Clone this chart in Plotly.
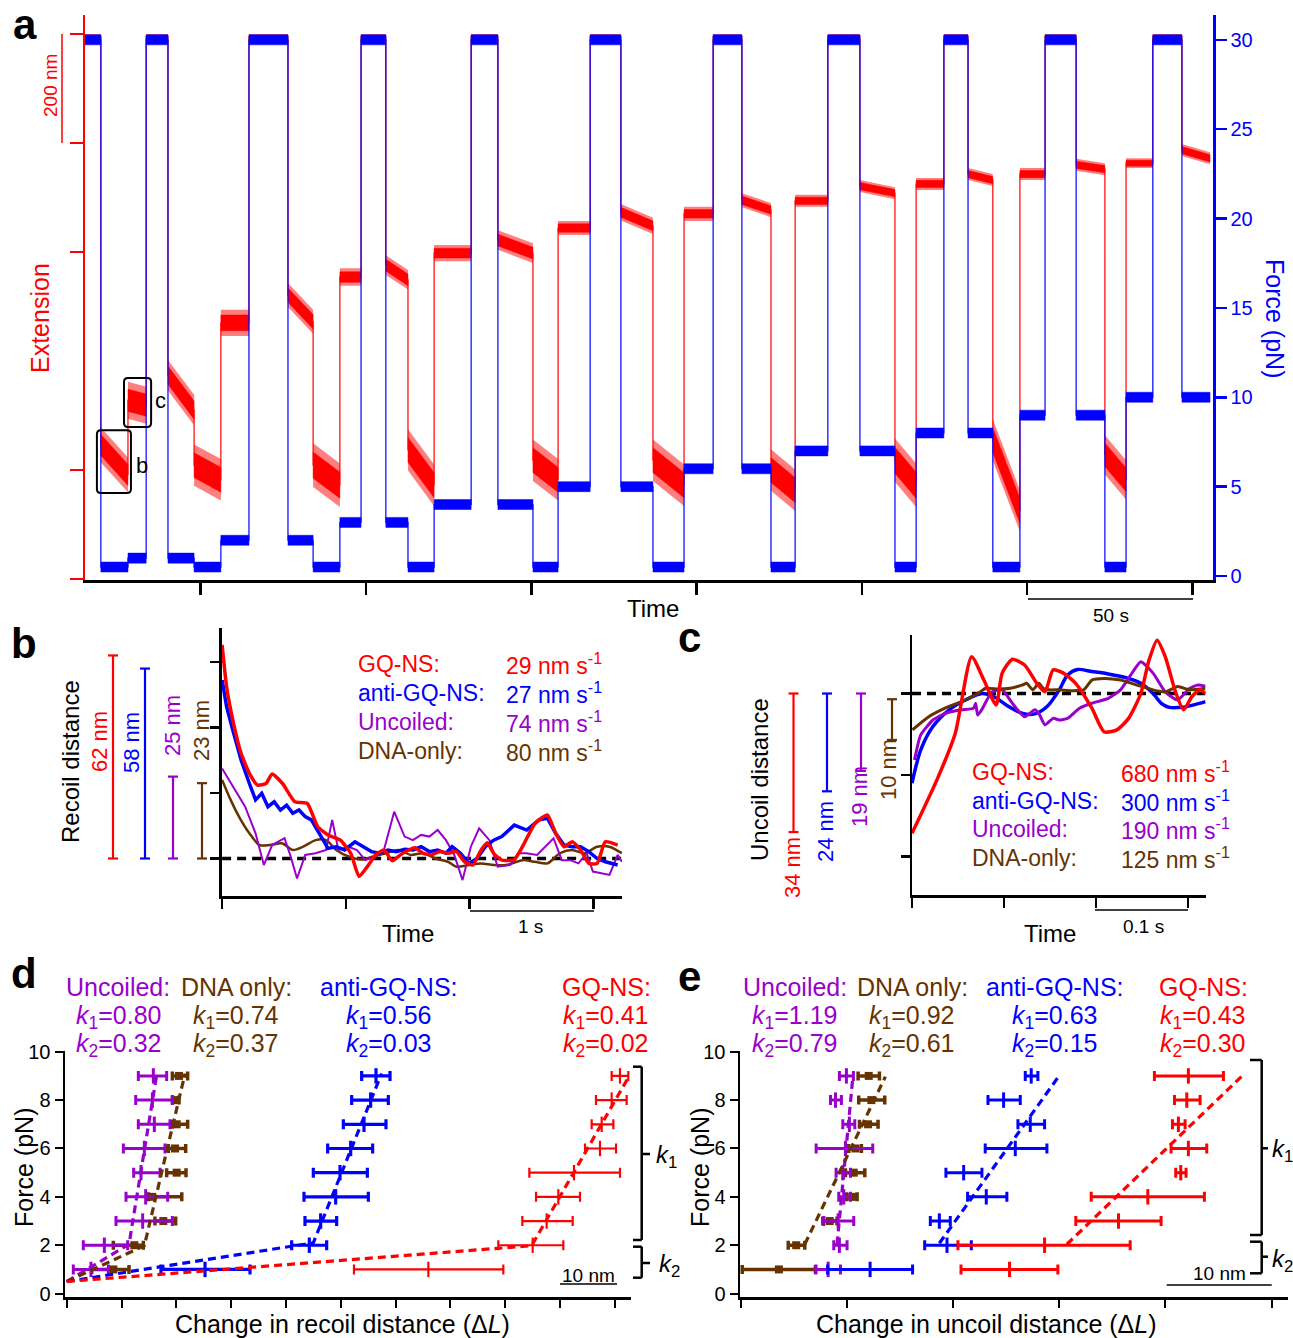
import plotly.graph_objects as go

W, H = 1293, 1338
def px(x): return x / W
def py(y): return 1 - y / H

RED = '#ff0000'; BLUE = '#0000ff'; PURPLE = '#9900cc'; BROWN = '#663300'
FONT = 'Liberation Sans, Arial, Helvetica, sans-serif'

# ---------------- Panel a data (time s, force pN, extension nm) ----------------
seg_t0 = [0, 4.8, 13.0, 18.5, 25.1, 33.0, 41.1, 49.6, 61.4, 69.0, 77.1, 83.5, 91.0, 97.7,
          105.6, 116.8, 124.9, 135.5, 143.1, 152.8, 162.1, 171.8, 181.2, 190.0, 198.7,
          207.5, 214.8, 224.7, 234.4, 245.0, 251.4, 259.8, 267.1, 274.6, 282.8, 290.4,
          299.8, 308.5, 314.9, 323.0, 331.8]
seg_t1 = seg_t0[1:] + [340.3]
seg_force = [30, 0.5, 1, 30, 1, 0.5, 2, 30, 2, 0.5, 3, 30, 3, 0.5, 4, 30, 4, 0.5, 5, 30, 5,
             0.5, 6, 30, 6, 0.5, 7, 30, 7, 0.5, 8, 30, 8, 0.5, 9, 30, 9, 0.5, 10, 30, 10]
seg_ext0 = [995, 246, 328, 995, 374, 209, 470, 995, 521, 209, 554, 995, 576, 237, 598, 995,
            622, 218, 644, 995, 673, 218, 670, 995, 695, 200, 694, 995, 721, 218, 725, 995,
            743, 255, 743, 995, 760, 228, 763, 995, 787]
seg_ext1 = [995, 191, 319, 995, 310, 182, 470, 995, 472, 172, 554, 995, 549, 172, 598, 995,
            598, 182, 644, 995, 648, 172, 670, 995, 677, 163, 694, 995, 708, 172, 725, 995,
            732, 125, 743, 995, 752, 182, 763, 995, 772]
seg_ext_noise = [5, 32, 34, 5, 28, 38, 24, 5, 22, 40, 16, 5, 18, 38, 15, 5, 18, 38, 13, 5, 15,
                 38, 13, 5, 13, 38, 11, 5, 11, 40, 11, 5, 11, 38, 11, 5, 11, 36, 9, 5, 11]
force_noise = 0.28
a_time_ticks = [35, 85, 135, 185, 235, 285, 335]
a_ext_ticks = [0, 200, 600, 800, 1000]
a_force_ticks = [0, 5, 10, 15, 20, 25, 30]

# ---------------- Panel b data (s, nm) ----------------
b_red_t = [0.0, 0.036, 0.086, 0.153, 0.220, 0.287, 0.354, 0.404, 0.488, 0.588, 0.688, 0.772, 0.855,
           0.955, 1.039, 1.106, 1.173, 1.240, 1.307, 1.374, 1.440, 1.507, 1.557, 1.624, 1.691,
           1.758, 1.825, 1.892, 1.958, 2.025, 2.092, 2.142, 2.193, 2.259, 2.360, 2.426, 2.527,
           2.627, 2.694, 2.761, 2.828, 2.895, 2.962, 3.029, 3.095, 3.195]
b_red_nm = [65.2, 52.5, 42.3, 32.1, 26.0, 22.4, 22.9, 25.8, 22.9, 17.3, 16.8, 9.7, 7.2, 5.6, 1.6,
            -5.5, -2.5, 1.1, 2.6, -0.7, 1.1, 2.6, 3.3, 1.6, 1.1, 2.1, 1.6, 2.1, -1.0, -2.0, 2.6,
            4.8, 1.6, -0.5, -0.3, 3.6, 10.7, 13.3, 7.7, 3.6, 5.1, 2.6, -1.5, -1.5, 5.1, 4.1]
b_blue_t = [0.0, 0.036, 0.086, 0.153, 0.220, 0.270, 0.320, 0.370, 0.421, 0.471, 0.521, 0.571,
            0.621, 0.671, 0.721, 0.788, 0.855, 0.922, 0.989, 1.073, 1.139, 1.206, 1.273, 1.340,
            1.407, 1.474, 1.541, 1.608, 1.674, 1.741, 1.808, 1.858, 1.925, 1.992, 2.059, 2.126,
            2.193, 2.259, 2.360, 2.460, 2.560, 2.627, 2.694, 2.761, 2.828, 2.895, 2.962, 3.029,
            3.095, 3.195]
b_blue_nm = [54.5, 46.4, 39.2, 30.1, 22.9, 17.9, 19.9, 15.8, 17.3, 14.8, 16.3, 13.8, 14.8, 12.8,
             11.8, 7.7, 3.1, 3.6, 2.6, 5.1, 3.6, 2.1, 1.6, 2.6, 2.1, 2.8, 2.6, 3.6, 2.1, 2.6, 1.6,
             3.6, 1.6, -1.5, 0.0, 3.6, 5.6, 6.7, 10.2, 8.7, 11.8, 12.3, 7.7, 4.1, 3.6, 3.6, 2.1,
             0.0, -1.0, -2.0]
b_purple_t = [0.0, 0.086, 0.186, 0.270, 0.337, 0.404, 0.504, 0.554, 0.605, 0.671, 0.755, 0.839,
              0.889, 0.939, 1.022, 1.089, 1.156, 1.240, 1.307, 1.390, 1.474, 1.541, 1.608, 1.674,
              1.741, 1.808, 1.875, 1.942, 2.009, 2.076, 2.159, 2.226, 2.326, 2.393, 2.460, 2.544,
              2.627, 2.677, 2.744, 2.811, 2.878, 2.945, 2.995, 3.062, 3.129, 3.195, 3.23]
b_purple_nm = [27.5, 21.9, 15.8, 7.7, -2.0, 4.1, 6.2, 0.6, -6.1, 1.1, 1.6, 2.6, 11.8, 2.6, 3.6,
               2.6, -0.5, 0.6, 2.6, 14.3, 6.7, 5.6, 7.2, 6.7, 8.7, 5.6, 1.1, -6.6, 3.6, 9.2, 5.6,
               -2.5, -2.0, 1.6, 1.6, 1.1, 4.1, 6.2, -0.5, -0.5, -1.5, 1.6, -4.0, -4.5, -5.0, 1.1,
               -1.0]
b_brown_t = [0.0, 0.069, 0.136, 0.220, 0.303, 0.387, 0.488, 0.571, 0.655, 0.755, 0.839, 0.922,
             1.022, 1.123, 1.223, 1.323, 1.424, 1.524, 1.624, 1.725, 1.825, 1.892, 1.992, 2.092,
             2.193, 2.293, 2.427, 2.527, 2.627, 2.728, 2.828, 2.928, 3.029, 3.129, 3.229]
b_brown_nm = [24.0, 17.9, 12.8, 7.7, 4.1, 4.1, 4.6, 2.6, 3.6, 5.6, 5.6, 2.6, 0.6, -0.3, 0.6, 1.6,
              2.6, 1.1, 1.6, 0.0, -1.0, -2.5, -2.0, -1.5, -2.0, -2.0, -0.5, -1.0, -1.5, 1.6, 2.6,
              1.6, 3.6, 3.6, 1.6]
b_bars = [62, 58, 25, 23]

# ---------------- Panel c data (s, nm) ----------------
c_red_t = [0.0, 0.0271, 0.0470, 0.0648, 0.0781, 0.0914, 0.0980, 0.1091, 0.1224, 0.1357, 0.1445,
           0.1534, 0.1645, 0.1778, 0.1955, 0.2088, 0.2221, 0.2354, 0.2487, 0.2576, 0.2664,
           0.2753, 0.2864, 0.2952, 0.3041, 0.3130, 0.3190]
c_red_nm = [-34.3, -21.2, -9.8, 9.0, 3.3, -2.8, 5.0, 8.4, 7.0, 2.5, 0.4, 5.8, 5.0, 2.5, -3.6,
            -9.4, -9.0, -6.1, 0.0, 8.2, 13.1, 9.0, 0.4, -4.0, -0.8, 0.9, 0.0]
c_blue_t = [0.0, 0.0094, 0.0227, 0.0404, 0.0581, 0.0758, 0.0891, 0.1024, 0.1202, 0.1335, 0.1468,
            0.1601, 0.1689, 0.1800, 0.1955, 0.2133, 0.2310, 0.2487, 0.2620, 0.2709, 0.2797,
            0.2930, 0.3063, 0.3190]
c_blue_nm = [-22.0, -13.9, -8.1, -4.0, -1.6, 0.0, -0.8, -2.8, -4.9, -5.0, -3.2, 0.9, 4.5, 5.9,
             5.4, 4.8, 4.0, 2.5, 0.0, -2.4, -3.4, -3.4, -2.8, -2.0]
c_purple_t = [0.0027, 0.0094, 0.0227, 0.0359, 0.0537, 0.0670, 0.0692, 0.0714, 0.0758, 0.0869,
              0.0980, 0.1091, 0.1224, 0.1335, 0.1379, 0.1445, 0.1534, 0.1601, 0.1689, 0.1822,
              0.1955, 0.2133, 0.2266, 0.2376, 0.2487, 0.2620, 0.2753, 0.2886, 0.3019, 0.3108,
              0.3190]
c_purple_nm = [-16.3, -10.2, -6.5, -4.9, -4.0, -3.6, -2.4, -5.3, -4.0, 0.4, 0.9, -2.4, -5.7,
               -4.0, -4.9, -7.7, -6.1, -6.5, -6.1, -3.6, -2.4, -1.2, 0.9, 4.5, 7.8, 5.0, 0.4,
               -1.6, 1.3, 2.1, 1.8]
c_brown_t = [0.0005, 0.0182, 0.0359, 0.0537, 0.0714, 0.0803, 0.0936, 0.1069, 0.1202, 0.1246,
             0.1313, 0.1379, 0.1423, 0.1490, 0.1601, 0.1734, 0.1867, 0.1955, 0.2088, 0.2266,
             0.2443, 0.2620, 0.2753, 0.2886, 0.3019, 0.3190]
c_brown_nm = [-8.9, -5.7, -3.6, -2.0, 0.0, 1.3, 1.1, 1.3, 2.1, 2.5, 0.9, 2.5, 1.3, 0.9, 0.9, 0.7,
              0.9, 3.3, 3.7, 3.3, 2.1, 0.9, 0.4, 1.7, 0.9, 1.3]
c_bars_top = [0, 0, 0, -1.4]
c_bars_bot = [-34, -24, -19, -11.4]

# ---------------- Panel d data (nm, pN) ----------------
force_levels = [1, 2, 3, 4, 5, 6, 7, 8, 9]
d_purple_mid = [4.43, 6.87, 13.86, 14.41, 13.56, 14.17, 15.99, 15.63, 15.81]
d_purple_lo = [1.21, 3.03, 9.00, 10.82, 12.22, 10.34, 13.07, 12.59, 13.07]
d_purple_hi = [7.60, 11.13, 19.28, 18.43, 17.03, 17.94, 18.85, 19.28, 18.24]
d_brown_mid = [8.51, 12.34, 17.63, 15.6, 20.07, 19.76, 20.07, 19.88, 20.49]
d_brown_lo = [4.56, 8.51, 16.1, 14.9, 18.24, 18.55, 19.28, 19.3, 19.28]
d_brown_hi = [11.37, 13.98, 19.88, 21.0, 21.77, 21.71, 22.07, 20.49, 22.07]
d_blue_mid = [25.24, 44.27, 46.34, 49.08, 49.87, 51.82, 54.25, 55.46, 56.44]
d_blue_lo = [17.2, 41.05, 43.48, 43.3, 45.0, 47.62, 50.48, 52.0, 53.82]
d_blue_hi = [33.45, 47.44, 49.26, 55.04, 54.86, 55.83, 58.26, 58.69, 59.0]
d_red_mid = [65.99, 85.03, 87.58, 89.71, 92.57, 97.31, 97.62, 99.44, 100.96]
d_red_lo = [52.42, 78.76, 83.14, 85.64, 84.42, 94.58, 95.79, 96.58, 99.44]
d_red_hi = [79.67, 90.62, 92.33, 93.66, 100.96, 100.24, 99.75, 102.18, 102.48]
d_fit_purple = ([0, 11.37, 16.42], [0.5, 2.04, 9.04])
d_fit_brown = ([0, 14.17, 21.59], [0.5, 1.98, 9.1])
d_fit_blue = ([0, 45.0, 57.47], [0.5, 2.1, 9.1])
d_fit_red = ([0, 84.84, 102.48], [0.5, 1.98, 8.93])
d_k = [('0.80', '0.32'), ('0.74', '0.37'), ('0.56', '0.03'), ('0.41', '0.02')]

# ---------------- Panel e data (nm, pN) ----------------
e_purple_mid = [8.25, 9.31, 9.19, 9.72, 9.63, 9.88, 10.25, 8.94, 9.97]
e_purple_lo = [7.09, 8.78, 7.84, 9.25, 9.00, 7.12, 9.63, 8.47, 9.31]
e_purple_hi = [9.41, 10.03, 10.66, 10.35, 10.35, 12.45, 10.76, 9.50, 10.63]
e_brown_mid = [3.61, 5.24, 8.40, 10.51, 10.66, 10.82, 12.01, 12.32, 12.07]
e_brown_lo = [0.16, 4.49, 7.75, 9.97, 9.88, 10.19, 11.2, 11.13, 11.07]
e_brown_hi = [7.06, 6.05, 9.09, 10.98, 11.70, 11.38, 12.95, 13.58, 13.08]
e_blue_mid = [12.2, 19.44, 18.72, 23.14, 21.01, 25.87, 27.28, 24.77, 27.37]
e_blue_lo = [8.2, 17.34, 17.87, 21.38, 19.34, 23.04, 26.12, 23.3, 26.81]
e_blue_hi = [16.2, 21.73, 19.75, 25.08, 22.73, 28.85, 28.63, 26.34, 28.0]
e_red_mid = [25.33, 28.63, 35.59, 38.35, 41.45, 42.17, 41.23, 42.02, 42.17]
e_red_lo = [20.76, 20.47, 31.57, 33.02, 40.98, 40.54, 40.67, 40.86, 38.97]
e_red_hi = [29.88, 36.69, 39.6, 43.68, 41.95, 43.9, 41.86, 43.27, 45.47]
e_fit_purple = ([9.09, 10.57], [2.04, 8.93])
e_fit_brown = ([6.05, 13.64], [2.04, 8.97])
e_fit_blue = ([18.72, 30.01], [2.08, 9.01])
e_fit_red = ([30.73, 47.35], [2.04, 9.05])
e_k = [('1.19', '0.79'), ('0.92', '0.61'), ('0.63', '0.15'), ('0.43', '0.30')]

fig = go.Figure()

# ---------------- Panel a traces ----------------
def band(t0, t1, v0, v1, n0, n1):
    return [t0, t1, t1, t0, t0, None], [v0 - n0, v1 - n1, v1 + n1, v0 + n0, v0 - n0, None]

ro_x, ro_y, rc_x, rc_y, rl_x, rl_y, bb_x, bb_y, bl_x, bl_y = [], [], [], [], [], [], [], [], [], []
for t0, t1, f, e0, e1, n in zip(seg_t0, seg_t1, seg_force, seg_ext0, seg_ext1, seg_ext_noise):
    xx, yy = band(t0, t1, e0, e1, n, n); ro_x += xx; ro_y += yy
    xx, yy = band(t0, t1, e0, e1, 0.6 * n, 0.6 * n); rc_x += xx; rc_y += yy
    rl_x += [t0, t1]; rl_y += [e0, e1]
    xx, yy = band(t0, t1, f, f, force_noise, force_noise); bb_x += xx; bb_y += yy
    bl_x += [t0, t1]; bl_y += [f, f]

fig.add_trace(go.Scatter(x=rl_x, y=rl_y, mode='lines', line=dict(color=RED, width=1.2),
                         xaxis='x', yaxis='y'))
fig.add_trace(go.Scatter(x=ro_x, y=ro_y, mode='lines', fill='toself', fillcolor='rgba(255,0,0,0.5)',
                         line=dict(width=0), xaxis='x', yaxis='y'))
fig.add_trace(go.Scatter(x=rc_x, y=rc_y, mode='lines', fill='toself', fillcolor=RED,
                         line=dict(color=RED, width=0.5), xaxis='x', yaxis='y'))
fig.add_trace(go.Scatter(x=bl_x, y=bl_y, mode='lines', line=dict(color=BLUE, width=1.2),
                         xaxis='x', yaxis='y2'))
fig.add_trace(go.Scatter(x=bb_x, y=bb_y, mode='lines', fill='toself', fillcolor=BLUE,
                         line=dict(color=BLUE, width=0.5), xaxis='x', yaxis='y2'))

# ---------------- Panel b traces ----------------
fig.add_trace(go.Scatter(x=[0, 3.23], y=[0, 0], mode='lines',
                         line=dict(color='black', width=3.5, dash='9px,6px'), xaxis='x3', yaxis='y3'))
fig.add_trace(go.Scatter(x=b_brown_t, y=b_brown_nm, mode='lines', line=dict(color=BROWN, width=2.5, shape='spline', smoothing=0.8),
                         xaxis='x3', yaxis='y3'))
fig.add_trace(go.Scatter(x=b_purple_t, y=b_purple_nm, mode='lines', line=dict(color=PURPLE, width=2),
                         xaxis='x3', yaxis='y3'))
fig.add_trace(go.Scatter(x=b_blue_t, y=b_blue_nm, mode='lines', line=dict(color=BLUE, width=3.5),
                         xaxis='x3', yaxis='y3'))
fig.add_trace(go.Scatter(x=b_red_t, y=b_red_nm, mode='lines', line=dict(color=RED, width=3.5, shape='spline', smoothing=0.5),
                         xaxis='x3', yaxis='y3'))

# ---------------- Panel c traces ----------------
fig.add_trace(go.Scatter(x=[0, 0.319], y=[0, 0], mode='lines',
                         line=dict(color='black', width=3.5, dash='9px,6px'), xaxis='x4', yaxis='y4'))
fig.add_trace(go.Scatter(x=c_blue_t, y=c_blue_nm, mode='lines', line=dict(color=BLUE, width=3.5, shape='spline', smoothing=0.8),
                         xaxis='x4', yaxis='y4'))
fig.add_trace(go.Scatter(x=c_purple_t, y=c_purple_nm, mode='lines', line=dict(color=PURPLE, width=3, shape='spline', smoothing=0.5),
                         xaxis='x4', yaxis='y4'))
fig.add_trace(go.Scatter(x=c_brown_t, y=c_brown_nm, mode='lines', line=dict(color=BROWN, width=3, shape='spline', smoothing=0.5),
                         xaxis='x4', yaxis='y4'))
fig.add_trace(go.Scatter(x=c_red_t, y=c_red_nm, mode='lines', line=dict(color=RED, width=3.5, shape='spline', smoothing=0.6),
                         xaxis='x4', yaxis='y4'))

# ---------------- Panels d/e traces ----------------
def err_series(mid, lo, hi, color, xa, ya, thick, square=False):
    plus = [h - m for h, m in zip(hi, mid)]
    minus = [m - l for m, l in zip(mid, lo)]
    marker = (dict(symbol='square', size=8, color=color) if square else
              dict(symbol='line-ns', size=11, line=dict(color=color, width=thick)))
    fig.add_trace(go.Scatter(x=mid, y=force_levels, mode='markers', marker=marker,
                             error_x=dict(type='data', symmetric=False, array=plus, arrayminus=minus,
                                          color=color, thickness=thick, width=4.5 if square else 5),
                             xaxis=xa, yaxis=ya))

def fit_line(fit, color, xa, ya):
    fig.add_trace(go.Scatter(x=fit[0], y=fit[1], mode='lines',
                             line=dict(color=color, width=3.2, dash='8px,5px'), xaxis=xa, yaxis=ya))

err_series(d_brown_mid, d_brown_lo, d_brown_hi, BROWN, 'x5', 'y5', 3.5, square=True)
err_series(d_purple_mid, d_purple_lo, d_purple_hi, PURPLE, 'x5', 'y5', 3)
err_series(d_blue_mid, d_blue_lo, d_blue_hi, BLUE, 'x5', 'y5', 3.2)
err_series(d_red_mid, d_red_lo, d_red_hi, RED, 'x5', 'y5', 2.2)
for fit, col in [(d_fit_purple, PURPLE), (d_fit_brown, BROWN), (d_fit_blue, BLUE), (d_fit_red, RED)]:
    fit_line(fit, col, 'x5', 'y5')

err_series(e_brown_mid, e_brown_lo, e_brown_hi, BROWN, 'x6', 'y6', 3.5, square=True)
err_series(e_purple_mid, e_purple_lo, e_purple_hi, PURPLE, 'x6', 'y6', 3)
err_series(e_blue_mid, e_blue_lo, e_blue_hi, BLUE, 'x6', 'y6', 3)
err_series(e_red_mid, e_red_lo, e_red_hi, RED, 'x6', 'y6', 3)
for fit, col in [(e_fit_purple, PURPLE), (e_fit_brown, BROWN), (e_fit_blue, BLUE), (e_fit_red, RED)]:
    fit_line(fit, col, 'x6', 'y6')

# ---------------- Axes ----------------
def ax(**kw):
    d = dict(showgrid=False, zeroline=False, showline=True, linecolor='black', linewidth=2.5,
             ticks='outside', tickcolor='black', tickwidth=2.5, ticklen=10, showticklabels=False,
             fixedrange=True, automargin=False)
    d.update(kw)
    return d

layout = dict(
    width=W, height=H, margin=dict(l=0, r=0, t=0, b=0, pad=0, autoexpand=False), autosize=False,
    paper_bgcolor='white', plot_bgcolor='white', showlegend=False,
    font=dict(family=FONT, color='black'),
    xaxis=ax(domain=[px(84.5), px(1213)], range=[-0.15, 341.2], anchor='y',
             tickvals=a_time_ticks, ticklen=12),
    yaxis=ax(domain=[py(580), py(15)], range=[-1.8, 1034.9], anchor='x', linecolor=RED,
             linewidth=2, tickcolor=RED, tickvals=a_ext_ticks, ticklen=13),
    yaxis2=ax(domain=[py(580), py(15)], range=[-0.224, 31.39], anchor='x', overlaying='y',
              side='right', linecolor=BLUE, tickcolor=BLUE, tickvals=a_force_ticks, ticklen=11,
              showticklabels=True, tickfont=dict(color=BLUE, size=20, family=FONT)),
    xaxis3=ax(domain=[px(221.5), px(622)], range=[-0.005, 3.23], anchor='y3', tickvals=[0, 1, 2, 3]),
    yaxis3=ax(domain=[py(896), py(628)], range=[-11.45, 70.38], anchor='x3', tickvals=[0, 20, 40, 60],
              ticklen=9),
    xaxis4=ax(domain=[px(912), px(1205.6)], range=[0, 0.3191], anchor='y4', tickvals=[0, 0.1, 0.2, 0.3]),
    yaxis4=ax(domain=[py(895), py(635)], range=[-49.45, 14.36], anchor='x4', tickvals=[0, -20, -40],
              ticklen=9),
    xaxis5=ax(domain=[px(65), px(631)], range=[-0.31, 102.97], anchor='y5',
              tickvals=list(range(0, 101, 10)), ticklen=8, tickwidth=2),
    yaxis5=ax(domain=[py(1297), py(1051)], range=[-0.14, 10.03], anchor='x5',
              tickvals=[0, 2, 4, 6, 8, 10], ticklen=8, tickwidth=2, showticklabels=True,
              tickfont=dict(size=20, family=FONT, color='black')),
    xaxis6=ax(domain=[px(740), px(1288)], range=[-0.05, 51.55], anchor='y6',
              tickvals=[0, 10, 20, 30, 40, 50], ticklen=8, tickwidth=2),
    yaxis6=ax(domain=[py(1297), py(1051)], range=[-0.14, 10.03], anchor='x6',
              tickvals=[0, 2, 4, 6, 8, 10], ticklen=8, tickwidth=2, showticklabels=True,
              tickfont=dict(size=20, family=FONT, color='black')),
)
fig.update_layout(**layout)

# ---------------- Annotations ----------------
ann = []
def txt(x, y, s, size=24, color='black', angle=0, xanchor='center', yanchor='middle', bold=False):
    ann.append(dict(x=px(x), y=py(y), xref='paper', yref='paper', text=('<b>%s</b>' % s) if bold else s,
                    showarrow=False, textangle=angle, xanchor=xanchor, yanchor=yanchor,
                    font=dict(size=size, color=color, family=FONT)))

# panel labels
txt(25, 24, 'a', 42, bold=True)
txt(24, 643, 'b', 42, bold=True)
txt(690, 637, 'c', 42, bold=True)
txt(24, 974, 'd', 42, bold=True)
txt(689, 976, 'e', 42, bold=True)

# panel a
txt(40, 318, 'Extension', 25, RED, -90)
txt(1275, 318, 'Force (pN)', 25, BLUE, 90)
txt(50, 86, '200 nm', 19, RED, -90)
txt(653, 608, 'Time', 24)
txt(1111, 616, '50 s', 19)
txt(142, 465, 'b', 22)
txt(160, 400, 'c', 22)

# panel b
txt(70, 762, 'Recoil distance', 24, angle=-90)
txt(99, 742, '62 nm', 22, RED, -90)
txt(131, 743, '58 nm', 22, BLUE, -90)
txt(172, 726, '25 nm', 22, PURPLE, -90)
txt(201, 731, '23 nm', 22, BROWN, -90)
b_leg = [('GQ-NS:', '29', RED), ('anti-GQ-NS:', '27', BLUE), ('Uncoiled:', '74', PURPLE), ('DNA-only:', '80', BROWN)]
for i, (lab, val, col) in enumerate(b_leg):
    yy = 664 + i * 29
    txt(356, yy, lab, 23, col, xanchor='left')
    txt(604, yy, val + ' nm s<sup>-1</sup>', 23, col, xanchor='right')
txt(408, 933, 'Time', 24)
txt(530, 926, '1 s', 19)

# panel c
txt(759, 780, 'Uncoil distance', 24, angle=-90)
txt(792, 868, '34 nm', 22, RED, -90)
txt(826, 832, '24 nm', 22, BLUE, -90)
txt(859, 797, '19 nm', 22, PURPLE, -90)
txt(888, 770, '10 nm', 22, BROWN, -90)
c_leg = [('GQ-NS:', '680', RED), ('anti-GQ-NS:', '300', BLUE), ('Uncoiled:', '190', PURPLE), ('DNA-only:', '125', BROWN)]
for i, (lab, val, col) in enumerate(c_leg):
    yy = 772 + i * 28.7
    txt(970, yy, lab, 23, col, xanchor='left')
    txt(1232, yy, val + ' nm s<sup>-1</sup>', 23, col, xanchor='right')
txt(1050, 933, 'Time', 24)
txt(1143, 926, '0.1 s', 19)

# panel d/e headers
heads = [('Uncoiled:', PURPLE), ('DNA only:', BROWN), ('anti-GQ-NS:', BLUE), ('GQ-NS:', RED)]
d_cx = [118, 236, 389, 606]
d_kx = [119, 236, 389, 606]
e_cx = [795, 912, 1055, 1203]
e_kx = [795, 912, 1055, 1203]
for (h, col), cx, kx, k in zip(heads, d_cx, d_kx, d_k):
    txt(cx, 987, h, 25, col)
    txt(kx, 1017, '<i>k</i><sub>1</sub>=' + k[0], 25, col)
    txt(kx, 1045, '<i>k</i><sub>2</sub>=' + k[1], 25, col)
for (h, col), cx, kx, k in zip(heads, e_cx, e_kx, e_k):
    txt(cx, 987, h, 25, col)
    txt(kx, 1017, '<i>k</i><sub>1</sub>=' + k[0], 25, col)
    txt(kx, 1045, '<i>k</i><sub>2</sub>=' + k[1], 25, col)

txt(24, 1168, 'Force (pN)', 25, angle=-90)
txt(700, 1168, 'Force (pN)', 25, angle=-90)
txt(342, 1324, 'Change in recoil distance (Δ<i>L</i>)', 25)
txt(986, 1324, 'Change in uncoil distance (Δ<i>L</i>)', 25)
txt(588, 1275, '10 nm', 19)
txt(1219, 1273, '10 nm', 19)
txt(654, 1156, '<i>k</i><sub>1</sub>', 24, xanchor='left')
txt(657, 1265, '<i>k</i><sub>2</sub>', 24, xanchor='left')
txt(1270, 1150, '<i>k</i><sub>1</sub>', 24, xanchor='left')
txt(1270, 1260, '<i>k</i><sub>2</sub>', 24, xanchor='left')

# ---------------- Shapes ----------------
shapes = []
def pline(x0, y0, x1, y1, color='black', width=2.5):
    shapes.append(dict(type='line', xref='paper', yref='paper', x0=px(x0), y0=py(y0), x1=px(x1), y1=py(y1),
                       line=dict(color=color, width=width)))

def vbar(xp, v0, v1, yref, color, cap=5, width=2.2):
    shapes.append(dict(type='line', xref='paper', yref=yref, x0=px(xp), x1=px(xp), y0=v0, y1=v1,
                       line=dict(color=color, width=width)))
    for v in (v0, v1):
        shapes.append(dict(type='line', xref='paper', yref=yref, x0=px(xp - cap), x1=px(xp + cap),
                           y0=v, y1=v, line=dict(color=color, width=width)))

def rbox(x0, x1, y0, y1, rx, ry):
    p = ('M %f,%f L %f,%f Q %f,%f %f,%f L %f,%f Q %f,%f %f,%f L %f,%f Q %f,%f %f,%f L %f,%f Q %f,%f %f,%f Z' %
         (x0 + rx, y0, x1 - rx, y0, x1, y0, x1, y0 + ry, x1, y1 - ry, x1, y1, x1 - rx, y1,
          x0 + rx, y1, x0, y1, x0, y1 - ry, x0, y0 + ry, x0, y0, x0 + rx, y0))
    shapes.append(dict(type='path', xref='x', yref='y', path=p, line=dict(color='black', width=2)))

# panel a: scale bars and boxes
shapes.append(dict(type='line', xref='paper', yref='y', x0=px(62), x1=px(62), y0=800, y1=1000,
                   line=dict(color=RED, width=1.5)))
pline(1028, 599, 1193, 599, 'black', 1.5)
rbox(3.6, 13.9, 158, 273, 1.2, 7.3)
rbox(11.8, 20.0, 279, 369, 1.2, 7.3)

# panel b bars
for xp, v, col in zip([113, 145, 173, 202], b_bars, [RED, BLUE, PURPLE, BROWN]):
    vbar(xp, 0, v, 'y3', col)
pline(470, 911, 594, 911, 'black', 1.5)

# panel c bars
for xp, v0, v1, col in zip([793.5, 827, 861, 892], c_bars_top, c_bars_bot, [RED, BLUE, PURPLE, BROWN]):
    vbar(xp, v0, v1, 'y4', col)
pline(1095, 910, 1188, 910, 'black', 1.5)

# panel d brackets and scale
pline(560, 1284, 617, 1284, 'black', 1.5)
for (xv, xc, xt, ytop, ybot, ymid) in [(641.7, 633, 650, 1066.7, 1240, 1154),
                                      (641.7, 633, 650, 1246.7, 1277.7, 1263),
                                      (1261.7, 1250, 1268, 1060, 1235, 1148.3),
                                      (1261.7, 1250, 1268, 1241.7, 1273.3, 1256.7)]:
    pline(xv, ytop, xv, ybot)
    pline(xc, ytop, xv, ytop)
    pline(xc, ybot, xv, ybot)
    pline(xv, ymid, xt, ymid)
pline(1166.7, 1285, 1271.7, 1285, 'black', 1.5)

fig.update_layout(annotations=ann, shapes=shapes)
fig.write_html('out.html', config={'displayModeBar': False, 'staticPlot': True},
               post_script="document.body.style.margin='0';document.body.style.overflow='hidden';")
